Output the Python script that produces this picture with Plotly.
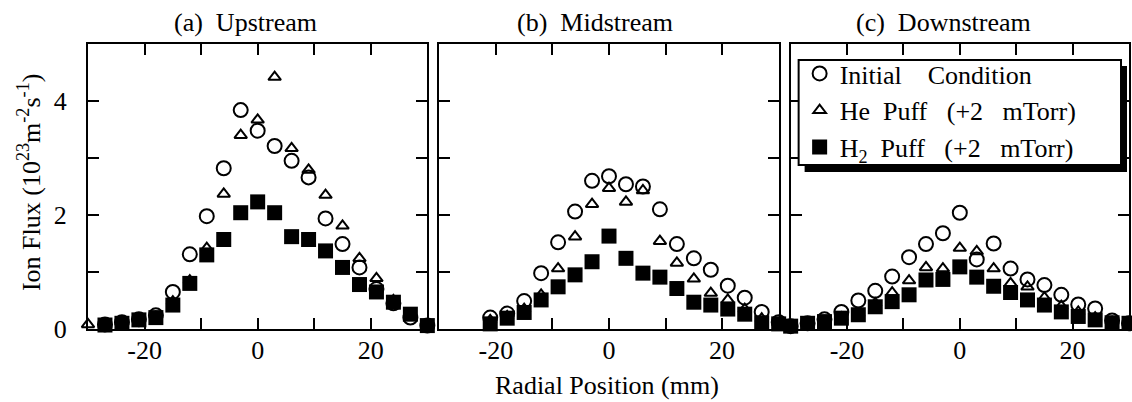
import plotly.graph_objects as go

# ---------------- data ----------------
pos_a = [-30, -27, -24, -21, -18, -15, -12, -9, -6, -3, 0, 3, 6, 9, 12, 15, 18, 21, 24, 27, 30]
init_a = [None, 0.08, 0.12, 0.17, 0.24, 0.65, 1.31, 1.98, 2.82, 3.84, 3.48, 3.21, 2.95, 2.66, 1.94, 1.49, 1.08, 0.70, 0.45, 0.20, 0.06]
he_a = [0.08, 0.08, 0.11, 0.16, 0.21, 0.48, 0.85, 1.42, 2.37, 3.40, 3.67, 4.42, 3.17, 2.79, 2.35, 1.81, 1.24, 0.89, 0.50, 0.25, 0.06]
h2_a = [None, 0.07, 0.10, 0.16, 0.20, 0.42, 0.80, 1.30, 1.57, 2.04, 2.23, 2.04, 1.62, 1.57, 1.37, 1.08, 0.78, 0.65, 0.47, 0.26, 0.06]

pos_b = [-21, -18, -15, -12, -9, -6, -3, 0, 3, 6, 9, 12, 15, 18, 21, 24, 27, 30]
init_b = [0.20, 0.27, 0.49, 0.98, 1.52, 2.06, 2.60, 2.68, 2.54, 2.50, 2.10, 1.49, 1.24, 1.04, 0.76, 0.55, 0.30, 0.12]
he_b = [0.15, 0.22, 0.35, 0.60, 1.06, 1.62, 2.19, 2.47, 2.23, 2.43, 1.54, 1.16, 0.88, 0.63, 0.51, 0.35, 0.18, 0.10]
h2_b = [0.09, 0.19, 0.29, 0.51, 0.74, 0.95, 1.18, 1.63, 1.24, 0.98, 0.91, 0.71, 0.47, 0.42, 0.35, 0.26, 0.11, 0.09]

pos_c = [-30, -27, -24, -21, -18, -15, -12, -9, -6, -3, 0, 3, 6, 9, 12, 15, 18, 21, 24, 27, 30]
init_c = [0.05, 0.10, 0.17, 0.30, 0.50, 0.67, 0.92, 1.26, 1.49, 1.68, 2.04, 1.22, 1.50, 1.06, 0.87, 0.77, 0.60, 0.43, 0.36, 0.15, 0.10]
he_c = [0.05, 0.10, 0.13, 0.20, 0.27, 0.45, 0.64, 0.85, 1.08, 1.06, 1.42, 1.36, 1.06, 0.80, 0.74, 0.55, 0.40, 0.30, 0.20, 0.12, 0.10]
h2_c = [0.05, 0.10, 0.13, 0.19, 0.25, 0.39, 0.48, 0.60, 0.86, 0.87, 1.09, 0.91, 0.75, 0.64, 0.51, 0.42, 0.30, 0.22, 0.16, 0.11, 0.10]

NB = "\u00a0"
panel_titles = ["(a)" + NB * 2 + "Upstream", "(b)" + NB * 2 + "Midstream", "(c)" + NB * 2 + "Downstream"]
series_names = ["Initial" + NB * 4 + "Condition",
                "He" + NB * 2 + "Puff" + NB * 3 + "(+2" + NB * 3 + "mTorr)",
                "H<sub>2</sub>" + NB * 2 + "Puff" + NB * 3 + "(+2" + NB * 3 + "mTorr)"]
x_tickvals = [-20, -10, 0, 10, 20]
x_ticktext = ["-20", "", "0", "", "20"]
y_tickvals = [0, 1, 2, 3, 4]
y_ticktext = ["0", "", "2", "", "4"]

FONT = "Liberation Serif, Times New Roman, serif"

# ---------------- figure ----------------
W, H = 1132, 402
ml, mr, mt, mb = 88, 1, 44, 73
pw = W - ml - mr
ph = H - mt - mb

def px2x(p):
    return (p - ml) / pw

def py2y(p):
    return (H - mb - p) / ph

domains = [(px2x(88), px2x(428)), (px2x(440), px2x(780)), (px2x(792), 1.0)]

styles = [
    dict(symbol="circle-open", size=14, color="black", line=dict(width=2, color="black")),
    dict(symbol="triangle-up-open", size=11, color="black", line=dict(width=2, color="black")),
    dict(symbol="square", size=15, color="black", line=dict(width=0, color="black")),
]

panels = [
    (pos_a, [init_a, he_a, h2_a]),
    (pos_b, [init_b, he_b, h2_b]),
    (pos_c, [init_c, he_c, h2_c]),
]

fig = go.Figure()
for pi, (xs, ys_list) in enumerate(panels):
    ax = "" if pi == 0 else str(pi + 1)
    for si, ys in enumerate(ys_list):
        fig.add_trace(go.Scatter(
            x=xs, y=ys, mode="markers",
            name=series_names[si],
            legendgroup=str(si),
            showlegend=(pi == 2),
            marker=styles[si],
            cliponaxis=False,
            xaxis="x" + ax, yaxis="y" + ax,
        ))

axis_common = dict(
    showline=True, linewidth=2, linecolor="black", mirror="ticks",
    ticks="inside", ticklen=11, tickwidth=2, tickcolor="black",
    showgrid=False, zeroline=False,
    tickfont=dict(family=FONT, size=26, color="black"),
)

layout = dict(
    width=W, height=H,
    margin=dict(l=ml, r=mr, t=mt, b=mb),
    paper_bgcolor="white", plot_bgcolor="white",
    font=dict(family=FONT, size=26, color="black"),
    showlegend=True,
    legend=dict(
        x=px2x(801), y=py2y(50),
        xanchor="left", yanchor="top",
        bgcolor="rgba(0,0,0,0)", borderwidth=0,
        font=dict(family=FONT, size=26, color="black"),
        itemsizing="trace", tracegroupgap=0,
        traceorder="normal",
    ),
)
for pi in range(3):
    sfx = "" if pi == 0 else str(pi + 1)
    layout["xaxis" + sfx] = dict(
        axis_common, domain=list(domains[pi]), range=[-30, 30],
        tickvals=x_tickvals, ticktext=x_ticktext, ticklabelstandoff=-3,
        anchor="y" + sfx,
    )
    layout["yaxis" + sfx] = dict(
        axis_common, domain=[0, 1], range=[0, 5],
        tickvals=y_tickvals, ticktext=y_ticktext,
        showticklabels=(pi == 0), ticklabelstandoff=14,
        anchor="x" + sfx,
    )
fig.update_layout(**layout)

# legend box with drop shadow
fig.add_shape(type="rect", xref="paper", yref="paper",
              x0=px2x(806), x1=px2x(1129), y0=py2y(172), y1=py2y(66),
              fillcolor="black", line=dict(width=0), layer="above")
fig.add_shape(type="rect", xref="paper", yref="paper",
              x0=px2x(800), x1=px2x(1123), y0=py2y(165), y1=py2y(60),
              fillcolor="white", line=dict(width=2, color="black"), layer="above")

title_centers = [246, 596, 945]
for t, cx in zip(panel_titles, title_centers):
    fig.add_annotation(text=t, xref="paper", yref="paper", x=px2x(cx), y=py2y(23),
                       xanchor="center", yanchor="middle", showarrow=False,
                       font=dict(family=FONT, size=26, color="black"))

fig.add_annotation(text="Radial Position (mm)", xref="paper", yref="paper",
                   x=px2x(608), y=py2y(385), xanchor="center", yanchor="middle",
                   showarrow=False, font=dict(family=FONT, size=26, color="black"))
fig.add_annotation(text="Ion Flux (10<sup>23</sup>m<sup>-2</sup>s<sup>-1</sup>)",
                   xref="paper", yref="paper", x=px2x(29), y=py2y(182),
                   xanchor="center", yanchor="middle", textangle=-90,
                   showarrow=False, font=dict(family=FONT, size=26, color="black"))

fig.write_html("out.html", config={"displayModeBar": False},
               post_script="document.body.style.margin='0';document.body.style.overflow='hidden';")
